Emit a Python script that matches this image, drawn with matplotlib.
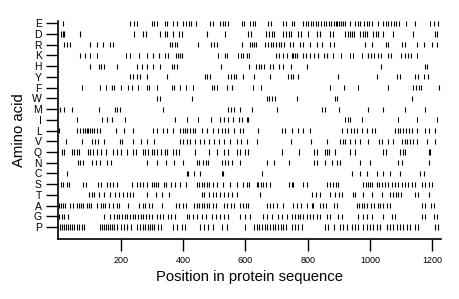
import matplotlib
matplotlib.use("Agg")
import matplotlib.pyplot as plt

plt.rcParams['font.family'] = ['Liberation Sans', 'DejaVu Sans']

amino_acids = ["E", "D", "R", "K", "H", "Y", "F", "W", "M", "I",
               "L", "V", "Q", "N", "C", "S", "T", "A", "G", "P"]

pos_E = [16, 230, 241, 253, 299, 307, 315, 342, 350, 369, 380, 401, 410, 418, 427, 441, 487, 497,
         519, 527, 536, 544, 588, 596, 615, 624, 631, 674, 683, 722, 730, 749, 756, 786, 795, 802,
         811, 818, 827, 834, 843, 851, 859, 867, 874, 883, 890, 894, 901, 907, 914, 920, 936, 952,
         961, 969, 982, 990, 997, 1006, 1025, 1043, 1051, 1059, 1068, 1076, 1085, 1093, 1115, 1145,
         1193, 1204, 1220]
pos_D = [8, 14, 19, 69, 244, 273, 280, 326, 341, 350, 367, 388, 397, 476, 535, 610, 617, 666, 677,
         685, 692, 722, 731, 739, 748, 770, 778, 802, 831, 840, 872, 880, 920, 928, 935, 942, 949,
         968, 977, 984, 992, 1011, 1019, 1027, 1043, 1075, 1139, 1209, 1214]
pos_R = [19, 26, 37, 101, 123, 144, 166, 176, 358, 366, 373, 382, 449, 489, 499, 508, 588, 615,
         622, 628, 634, 664, 673, 681, 690, 699, 707, 716, 724, 744, 752, 776, 786, 806, 831, 845,
         872, 883, 984, 1006, 1051, 1059, 1102, 1113, 1150, 1172, 1198, 1214]
pos_K = [69, 85, 101, 125, 216, 230, 260, 283, 303, 324, 342, 353, 377, 384, 390, 397, 513, 535,
         542, 578, 585, 594, 604, 611, 699, 709, 720, 733, 749, 754, 760, 767, 784, 795, 808, 821,
         834, 851, 863, 880, 907, 936, 944, 974, 993, 1004, 1014, 1025, 1036, 1057, 1068, 1100,
         1111, 1121, 1132, 1150]
pos_H = [101, 129, 137, 147, 187, 251, 267, 283, 305, 326, 364, 372, 380, 522, 613, 634, 643, 651,
         660, 679, 688, 709, 722, 746, 797, 1035, 1177, 1182]
pos_Y = [230, 238, 253, 262, 283, 348, 471, 478, 487, 545, 553, 562, 570, 594, 628, 679, 738, 746,
         754, 770, 899, 1022, 1086, 1097, 1145, 1153, 1172, 1185]
pos_F = [75, 133, 153, 171, 178, 201, 222, 235, 254, 283, 292, 318, 364, 371, 390, 410, 431, 492,
         499, 508, 542, 556, 624, 649, 872, 918, 961, 1059, 1139, 1147, 1156, 1164, 1222]
pos_W = [315, 326, 428, 669, 677, 686, 694, 765, 888, 894, 1134]
pos_M = [5, 19, 43, 129, 182, 189, 198, 337, 545, 554, 562, 583, 620, 701, 845, 856, 901, 995,
         1043, 1113, 1177]
pos_I = [61, 139, 155, 171, 214, 374, 412, 449, 489, 519, 532, 545, 561, 581, 588, 606, 610, 920,
         928, 935, 974, 1091, 1150, 1214]
pos_L = [3, 59, 69, 78, 85, 91, 96, 101, 107, 114, 123, 133, 185, 211, 240, 305, 318, 335, 350,
         367, 390, 399, 406, 414, 422, 431, 438, 460, 478, 497, 513, 524, 535, 545, 562, 583, 594,
         642, 717, 727, 749, 770, 786, 806, 909, 925, 939, 950, 958, 976, 990, 1006, 1016, 1081,
         1089, 1098, 1106, 1115, 1126, 1136, 1150, 1177, 1188, 1209]
pos_V = [23, 75, 109, 117, 126, 147, 198, 205, 240, 264, 283, 307, 390, 401, 412, 422, 438, 455,
         468, 484, 499, 517, 532, 551, 574, 585, 606, 637, 746, 810, 863, 904, 912, 920, 936, 952,
         968, 995, 1029, 1040, 1057, 1075, 1102, 1111, 1118, 1129, 1139, 1150, 1182, 1209]
pos_Q = [10, 19, 43, 50, 59, 66, 94, 101, 112, 123, 136, 152, 174, 187, 201, 219, 238, 249, 270,
         278, 289, 299, 307, 318, 328, 342, 350, 367, 377, 388, 438, 484, 508, 532, 545, 574, 583,
         599, 607, 717, 773, 821, 831, 856, 863, 870, 888, 936, 952, 1043, 1051, 1097, 1107, 1113,
         1188, 1193]
pos_N = [62, 69, 80, 109, 121, 134, 155, 168, 285, 318, 345, 371, 399, 444, 452, 465, 474, 481,
         524, 535, 545, 556, 583, 669, 693, 741, 821, 831, 856, 877, 893, 904, 968, 1000, 1091,
         1102, 1188]
pos_C = [27, 412, 417, 435, 455, 524, 529, 653, 941, 968, 990, 1022, 1043, 1065, 1097, 1161, 1172]
pos_S = [8, 16, 27, 35, 78, 89, 126, 136, 155, 166, 176, 187, 235, 251, 262, 273, 283, 299, 307,
         313, 321, 339, 345, 360, 374, 390, 410, 444, 452, 460, 467, 476, 484, 497, 510, 529, 551,
         574, 594, 606, 613, 637, 642, 649, 658, 666, 679, 741, 749, 754, 784, 797, 863, 872, 880,
         890, 897, 979, 986, 993, 1000, 1008, 1022, 1029, 1038, 1049, 1059, 1070, 1081, 1091, 1102,
         1113, 1123, 1136, 1145, 1166, 1177, 1188, 1200]
pos_T = [99, 107, 115, 131, 146, 166, 182, 196, 206, 219, 230, 240, 283, 313, 331, 356, 460, 467,
         484, 495, 506, 519, 532, 545, 556, 572, 647, 813, 827, 840, 872, 888, 901, 909, 944, 952,
         979, 1006, 1038, 1065, 1075, 1083, 1091, 1100, 1145, 1155, 1188]
pos_A = [3, 9, 16, 22, 37, 46, 61, 67, 74, 80, 93, 99, 106, 123, 136, 142, 148, 161, 174, 189,
         196, 222, 260, 270, 279, 290, 299, 331, 377, 388, 399, 410, 435, 444, 452, 460, 467, 476,
         484, 495, 506, 532, 542, 553, 562, 583, 594, 602, 610, 669, 679, 690, 701, 722, 754, 767,
         778, 797, 813, 818, 840, 848, 859, 883, 893, 958, 965, 974, 982, 990, 1004, 1014, 1025,
         1032, 1043, 1054, 1065, 1168, 1177, 1196, 1204]
pos_G = [3, 10, 18, 32, 146, 166, 178, 187, 196, 204, 213, 221, 230, 238, 247, 255, 264, 273, 281,
         290, 299, 315, 326, 337, 353, 360, 374, 412, 420, 431, 444, 460, 474, 492, 506, 519, 532,
         545, 583, 599, 615, 658, 669, 685, 706, 717, 733, 749, 759, 768, 776, 786, 797, 808, 818,
         831, 840, 861, 872, 899, 909, 963, 979, 990, 1006, 1043, 1070, 1080, 1166, 1177, 1204, 1214]
pos_P = [5, 12, 18, 24, 31, 37, 44, 50, 59, 67, 76, 82, 133, 140, 146, 153, 159, 166, 172, 178,
         187, 200, 211, 219, 232, 251, 262, 270, 279, 288, 294, 300, 307, 321, 328, 369, 380, 396,
         406, 455, 467, 481, 497, 524, 540, 599, 628, 636, 645, 653, 662, 671, 679, 688, 696, 705,
         713, 722, 730, 749, 759, 770, 781, 856, 866, 883, 904, 915, 925, 941, 952, 963, 979, 990,
         1000, 1011, 1022, 1032, 1054, 1064, 1075, 1086, 1096, 1107, 1118, 1128, 1145, 1155, 1209,
         1220]

positions = [pos_E, pos_D, pos_R, pos_K, pos_H, pos_Y, pos_F, pos_W, pos_M, pos_I,
             pos_L, pos_V, pos_Q, pos_N, pos_C, pos_S, pos_T, pos_A, pos_G, pos_P]

x_ticks = [200, 400, 600, 800, 1000, 1200]
seq_length = 1227

fig = plt.figure(figsize=(4.6, 2.99), dpi=100)
ax = fig.add_axes([0.127, 0.2007, 0.831, 0.7274])

n = len(amino_acids)
half = 0.24
for i, (aa, pos) in enumerate(zip(amino_acids, positions)):
    y = n - 1 - i
    ax.vlines(pos, y - half, y + half, colors="black", linewidth=0.8)

ax.set_xlim(0, seq_length)
ax.set_ylim(-1.12, n - 1 + 0.17)
ax.set_yticks(range(n))
ax.set_yticklabels(amino_acids[::-1], fontsize=7.5)
ax.set_xticks(x_ticks)
ax.set_xticklabels([str(t) for t in x_ticks], fontsize=6.5)
ax.tick_params(axis="both", direction="out", length=8.5, width=1.0, pad=3.5)
for side in ("top", "right"):
    ax.spines[side].set_visible(False)
for side in ("left", "bottom"):
    ax.spines[side].set_linewidth(1.2)
ax.set_xlabel("Position in protein sequence", fontsize=10.7, labelpad=4)
ax.set_ylabel("Amino acid", fontsize=10.7, labelpad=4)

fig.savefig("out.png", dpi=100)
